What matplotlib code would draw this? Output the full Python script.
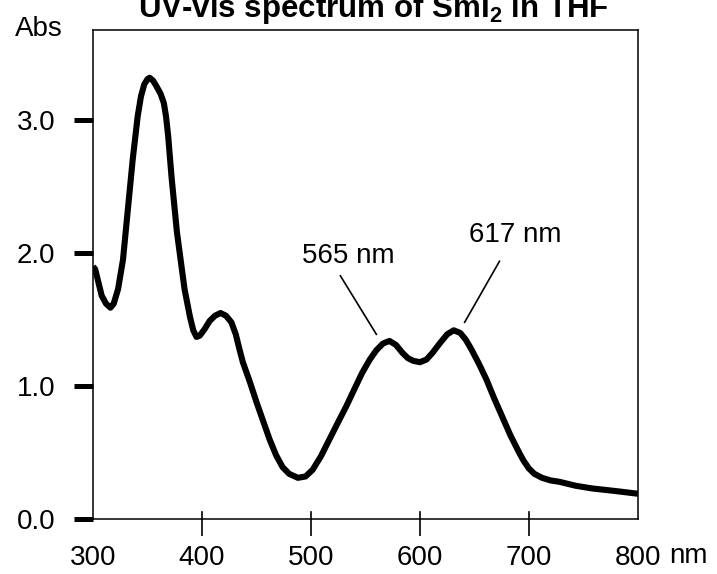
import matplotlib
matplotlib.use("Agg")
import matplotlib.pyplot as plt

plt.rcParams['font.family'] = ['Liberation Sans', 'DejaVu Sans']
plt.rcParams['mathtext.fontset'] = 'custom'
plt.rcParams['mathtext.rm'] = 'Liberation Sans'
plt.rcParams['mathtext.bf'] = 'Liberation Sans:bold'

# spectrum (wavelength in nm, absorbance)
wavelength = [300, 302, 305, 308, 312, 316, 319, 323, 327.5, 332, 336.5, 341, 344, 347, 350,
              352, 355, 358, 362, 365, 367, 369, 372, 377, 384, 389, 392, 395, 398, 402.5,
              407, 412, 417, 422, 427, 431, 434, 437.5, 444, 450, 456, 462, 468, 474, 480,
              488, 495, 501.5, 509, 517, 525, 532.5, 540, 547, 554, 560, 566, 572, 578, 584,
              589, 594, 600, 606, 611.5, 618, 625, 631, 637, 642, 647, 654, 661, 668, 675.5,
              683, 691, 695, 700, 705, 712, 720, 728, 743, 758, 780, 800]
absorbance = [1.90, 1.88, 1.78, 1.68, 1.62, 1.59, 1.62, 1.73, 1.95, 2.33, 2.71, 3.03, 3.18,
              3.27, 3.31, 3.32, 3.30, 3.26, 3.20, 3.13, 3.03, 2.88, 2.58, 2.16, 1.73, 1.52,
              1.42, 1.37, 1.38, 1.43, 1.49, 1.53, 1.55, 1.53, 1.48, 1.39, 1.29, 1.18, 1.03,
              0.88, 0.74, 0.60, 0.48, 0.39, 0.34, 0.31, 0.32, 0.37, 0.47, 0.60, 0.73, 0.85,
              0.98, 1.10, 1.20, 1.27, 1.32, 1.34, 1.31, 1.25, 1.21, 1.19, 1.18, 1.20, 1.25,
              1.32, 1.39, 1.42, 1.40, 1.35, 1.28, 1.17, 1.05, 0.91, 0.77, 0.63, 0.50, 0.44,
              0.38, 0.34, 0.31, 0.29, 0.28, 0.25, 0.23, 0.21, 0.19]

x_ticks = [300, 400, 500, 600, 700, 800]
y_ticks = [0.0, 1.0, 2.0, 3.0]
y_ticklabels = ['0.0', '1.0', '2.0', '3.0']

# peak labels: text, text position, leader line start, leader line end
peak_labels = ['565 nm', '617 nm']
label_pos = [(534, 1.98), (687, 2.14)]
leader_start = [(527, 1.83), (673, 1.94)]
leader_end = [(560, 1.39), (641, 1.48)]

fig = plt.figure(figsize=(7.17, 5.74), dpi=100)
ax = fig.add_axes([0.1297, 0.0958, 0.76, 0.852])

ax.plot(wavelength, absorbance, color='black', lw=4.4,
        solid_joinstyle='round', solid_capstyle='butt')

for lab, p, s, e in zip(peak_labels, label_pos, leader_start, leader_end):
    ax.text(p[0], p[1], lab, fontsize=20, ha='center', va='center')
    ax.plot([s[0], e[0]], [s[1], e[1]], color='black', lw=1.2)

ax.set_xlim(300, 800)
ax.set_ylim(0, 3.68)

ax.set_xticks(x_ticks)
ax.set_xticklabels([str(t) for t in x_ticks], fontsize=20)
ax.set_yticks(y_ticks)
ax.set_yticklabels(y_ticklabels, fontsize=20)

ax.tick_params(axis='x', direction='out', length=12, width=1.2, pad=7)
ax.tick_params(axis='y', direction='out', length=14, width=3.6, pad=13)
xt = ax.xaxis.get_major_ticks()
xt[0].tick1line.set_visible(False)
xt[-1].tick1line.set_visible(False)
# little inward part of the x ticks
for t in x_ticks[1:-1]:
    ax.plot([t, t], [0, 0.05], color='black', lw=1.2, clip_on=False)

for sp in ax.spines.values():
    sp.set_linewidth(1.1)

fig.text(15 / 717, 1 - 29 / 574, 'Abs', fontsize=20, ha='left', va='center')
fig.text(669 / 717, 1 - 556 / 574, 'nm', fontsize=20, ha='left', va='center')
fig.text(373 / 717, 1 - 17 / 574, r'UV-vis spectrum of SmI$_\mathbf{2}$ in THF',
         fontsize=22.5, fontweight='bold', ha='center', va='baseline')

fig.savefig('out.png', dpi=100)
